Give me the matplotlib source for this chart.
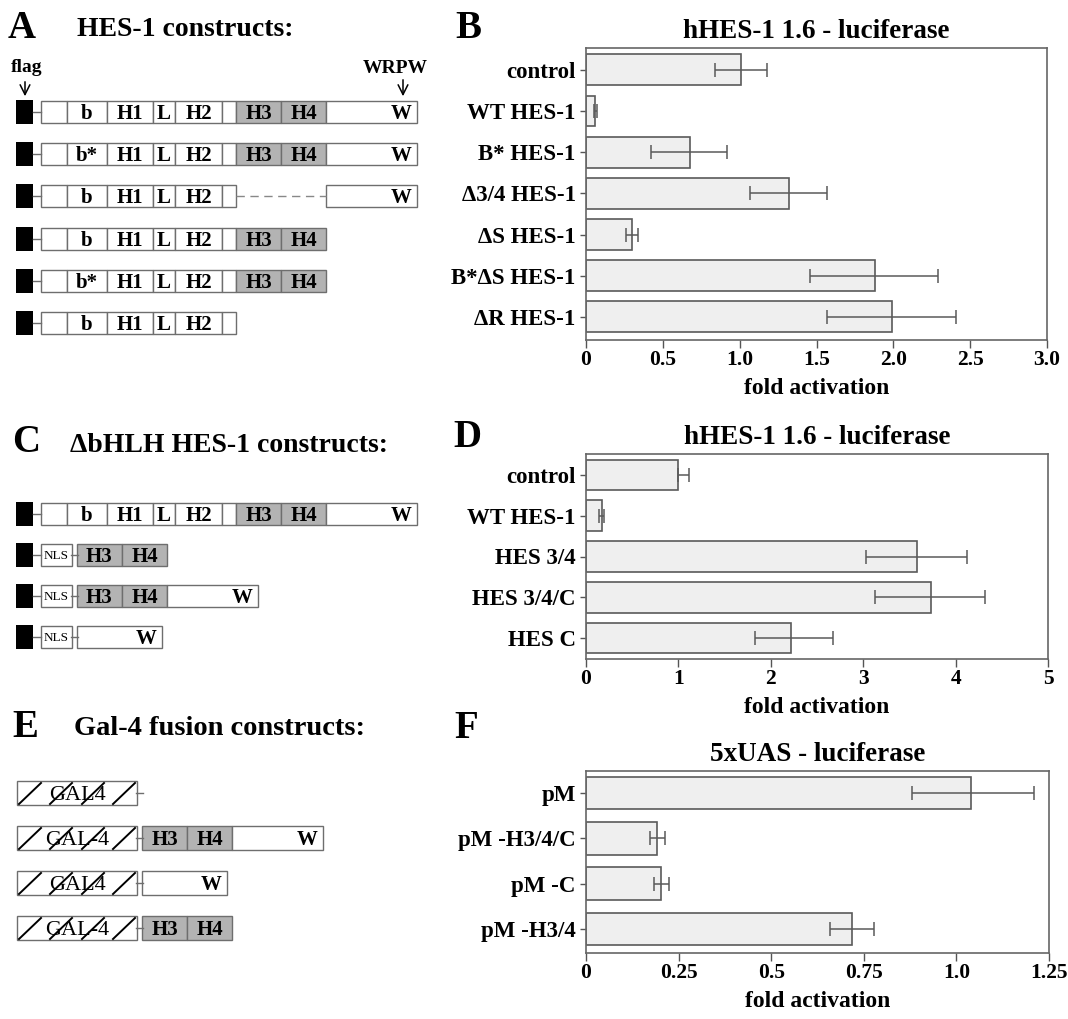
import numpy as np
import matplotlib
matplotlib.use('Agg')
import matplotlib.pyplot as plt
from matplotlib.patches import Rectangle

plt.rcParams['font.family'] = ['Liberation Serif', 'DejaVu Serif']
plt.rcParams['font.weight'] = 'bold'

# ---- bar chart data ----
b_labels = ['control', 'WT HES-1', 'B* HES-1', '\u03943/4 HES-1', '\u0394S HES-1',
            'B*\u0394S HES-1', '\u0394R HES-1']
b_values = [1.01, 0.06, 0.68, 1.32, 0.30, 1.88, 1.99]
b_err_lo = [0.17, 0.01, 0.26, 0.25, 0.04, 0.42, 0.42]
b_err_hi = [0.17, 0.01, 0.24, 0.25, 0.04, 0.41, 0.42]
b_ticks = [0, 0.5, 1.0, 1.5, 2.0, 2.5, 3.0]
b_ticklabels = ['0', '0.5', '1.0', '1.5', '2.0', '2.5', '3.0']

d_labels = ['control', 'WT HES-1', 'HES 3/4', 'HES 3/4/C', 'HES C']
d_values = [1.00, 0.17, 3.58, 3.73, 2.22]
d_err_lo = [0.0, 0.03, 0.55, 0.60, 0.39]
d_err_hi = [0.11, 0.03, 0.54, 0.59, 0.45]
d_ticks = [0, 1, 2, 3, 4, 5]
d_ticklabels = ['0', '1', '2', '3', '4', '5']

f_labels = ['pM', 'pM -H3/4/C', 'pM -C', 'pM -H3/4']
f_values = [1.04, 0.192, 0.203, 0.718]
f_err_lo = [0.16, 0.02, 0.02, 0.06]
f_err_hi = [0.17, 0.02, 0.02, 0.06]
f_ticks = [0, 0.25, 0.5, 0.75, 1.0, 1.25]
f_ticklabels = ['0', '0.25', '0.5', '0.75', '1.0', '1.25']

# ---- construct diagrams (domain names per row) ----
a_rows = [
    ['N', 'b', 'H1', 'L', 'H2', 's', 'H3', 'H4', 'C'],
    ['N', 'b*', 'H1', 'L', 'H2', 's', 'H3', 'H4', 'C'],
    ['N', 'b', 'H1', 'L', 'H2', 's', 'DEL', 'C'],
    ['N', 'b', 'H1', 'L', 'H2', 's', 'H3', 'H4'],
    ['N', 'b*', 'H1', 'L', 'H2', 's', 'H3', 'H4'],
    ['N', 'b', 'H1', 'L', 'H2', 's'],
]
c_rows = [
    ['N', 'b', 'H1', 'L', 'H2', 's', 'H3', 'H4', 'C'],
    ['NLS', '-', 'H3', 'H4'],
    ['NLS', '-', 'H3', 'H4', 'C'],
    ['NLS', '-', 'Cs'],
]
e_rows = [
    ['GAL4', '-'],
    ['GAL-4', '-', 'H3', 'H4', 'C'],
    ['GAL4', '-', 'Cs'],
    ['GAL-4', '-', 'H3', 'H4'],
]

# layout (pixels)
dom_w = {'N': 26, 'b': 40, 'b*': 40, 'H1': 46, 'L': 22, 'H2': 47, 's': 14,
         'H3': 45, 'H4': 45, 'C': 91, 'Cs': 85, 'DEL': 90, 'NLS': 31, '-': 5,
         'GAL4': 120, 'GAL-4': 120}
dom_text = {'b': 'b', 'b*': 'b*', 'H1': 'H1', 'L': 'L', 'H2': 'H2', 'H3': 'H3',
            'H4': 'H4', 'C': 'W', 'Cs': 'W', 'NLS': 'NLS', 'GAL4': 'GAL4',
            'GAL-4': 'GAL-4'}
edge = '#6e6e6e'
grey = '#b3b3b3'

W, H = 1068, 1019
fig = plt.figure(figsize=(10.68, 10.19), dpi=100)
bg = fig.add_axes([0, 0, 1, 1])
bg.set_xlim(0, W)
bg.set_ylim(H, 0)
bg.axis('off')


def draw_row(y, keys, h=22, flag=True, x0=41):
    if flag:
        bg.add_patch(Rectangle((16, y - h / 2 - 1), 17, h + 2, color='black', lw=0))
        bg.plot([33, x0], [y, y], color=edge, lw=1)
    x = x0
    for k in keys:
        w = dom_w[k]
        if k == '-':
            bg.plot([x - 1, x + w + 1], [y, y], color=edge, lw=1)
        elif k == 'DEL':
            bg.plot([x, x + w], [y, y], color='#888888', lw=1, ls=(0, (6, 4)))
        else:
            fc = grey if k in ('H3', 'H4') else 'white'
            bg.add_patch(Rectangle((x, y - h / 2), w, h, facecolor=fc,
                                   edgecolor=edge, lw=1))
            t = dom_text.get(k, '')
            if k in ('C', 'Cs'):
                bg.text(x + w - 5, y + 7, t, fontsize=15, ha='right', va='baseline')
            elif k == 'NLS':
                bg.text(x + w / 2, y + 4, t, fontsize=9.5, fontweight='normal',
                        ha='center', va='baseline')
            elif k.startswith('GAL'):
                for sx in [2, 33, 65, 96]:
                    bg.plot([x + sx, x + sx + 22], [y + h / 2 - 1, y - h / 2 + 2],
                            color='black', lw=1.4)
                bg.text(x + w / 2, y + 7, t, fontsize=16, fontweight='normal',
                        ha='center', va='baseline')
            elif t:
                bg.text(x + w / 2, y + 7, t, fontsize=15, ha='center', va='baseline')
        x += w


for i, row in enumerate(a_rows):
    draw_row(112 + i * 42.2, row)
for i, row in enumerate(c_rows):
    draw_row(514 + i * 41, row)
for i, row in enumerate(e_rows):
    draw_row(793 + i * 45, row, h=24, flag=False, x0=17)

# panel letters and headings
for s, x, yb in [('A', 8, 38), ('B', 455, 38), ('C', 12, 452), ('D', 453, 447),
                 ('E', 12, 737), ('F', 454, 738)]:
    bg.text(x, yb, s, fontsize=28, ha='left', va='baseline')
bg.text(77, 36, 'HES-1 constructs:', fontsize=20, ha='left', va='baseline')
bg.text(70, 452, '\u0394bHLH HES-1 constructs:', fontsize=20, ha='left', va='baseline')
bg.text(74, 735, 'Gal-4 fusion constructs:', fontsize=20.5, ha='left', va='baseline')

bg.text(27, 72, 'flag', fontsize=14, ha='center', va='baseline')
bg.text(395, 73, 'WRPW', fontsize=14, ha='center', va='baseline')
arr = dict(arrowstyle='->,head_length=0.7,head_width=0.35', color='black', lw=1.1)
bg.annotate('', xy=(25, 99), xytext=(25, 79), arrowprops=arr)
bg.annotate('', xy=(403, 99), xytext=(403, 77), arrowprops=arr)


def chart(box, labels, vals, lo, hi, ticks, ticklabels, title, pads, bh):
    l, t, r, b = box
    ax = fig.add_axes([l / W, 1 - b / H, (r - l) / W, (b - t) / H])
    y = np.arange(len(labels))
    ax.barh(y, vals, height=bh, color='#efefef', edgecolor='#5a5a5a', linewidth=1.2)
    ax.errorbar(vals, y, xerr=[lo, hi], fmt='none', ecolor='#5a5a5a',
                elinewidth=1.1, capsize=5, capthick=1.1)
    ax.set_ylim(len(labels) - 1 + pads[1], -pads[0])
    ax.set_xlim(ticks[0], ticks[-1])
    ax.set_yticks(y)
    ax.set_yticklabels(labels)
    ax.set_xticks(ticks)
    ax.set_xticklabels(ticklabels)
    ax.tick_params(axis='x', length=6, width=1, color='#555555', labelsize=15.5, pad=1)
    ax.tick_params(axis='y', length=4.5, width=1, color='#555555', labelsize=16.5, pad=3)
    for sp in ax.spines.values():
        sp.set_color('#666666')
        sp.set_linewidth(1.2)
    ax.set_title(title, fontsize=19.5, fontweight='bold', pad=7)
    ax.set_xlabel('fold activation', fontsize=17, fontweight='bold', labelpad=6)
    return ax


chart((586, 48, 1047, 340), b_labels, b_values, b_err_lo, b_err_hi,
      b_ticks, b_ticklabels, 'hHES-1 1.6 - luciferase', (0.53, 0.56), 0.75)
chart((586, 454, 1048, 659), d_labels, d_values, d_err_lo, d_err_hi,
      d_ticks, d_ticklabels, 'hHES-1 1.6 - luciferase', (0.515, 0.515), 0.75)
chart((586, 771, 1049, 953), f_labels, f_values, f_err_lo, f_err_hi,
      f_ticks, f_ticklabels, '5xUAS - luciferase', (0.486, 0.53), 0.72)

fig.savefig('out.png', dpi=100, facecolor='white')
